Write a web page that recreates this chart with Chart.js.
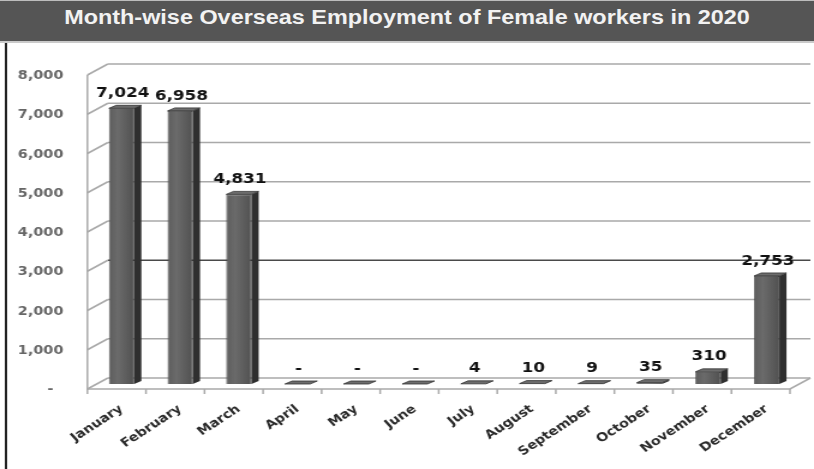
<!DOCTYPE html>
<html>
<head>
<meta charset="utf-8">
<title>Month-wise Overseas Employment of Female workers in 2020</title>
<script src="https://cdn.jsdelivr.net/npm/chart.js@4"></script>
<style>
  html, body { margin: 0; padding: 0; background: #fff; overflow: hidden; }
  /* the sheet is laid out 678 wide and stretched across the 814px window */
  #page { position: absolute; left: 0; top: 0; width: 678px; height: 469px;
          transform-origin: 0 0; transform: scaleX(1.2006); }
  #chart { position: absolute; left: 0; top: 0; }
  #title { position: absolute; left: 0; top: 0; width: 678px; height: 43px; box-sizing: border-box;
           background: #555; border-top: 1px solid #bdbdbd; border-bottom: 2px solid #cacaca;
           color: #f2f2f2; text-align: center; padding-top: 5px; line-height: 22px;
           font: bold 19.5px "Liberation Sans", Arial, sans-serif; }
  #frame { position: absolute; left: 4px; top: 43px; height: 426px; border-left: 2px solid #222; }
</style>
</head>
<body>
<div id="page">
  <canvas id="chart" width="678" height="469"></canvas>
  <div id="title">Month-wise Overseas Employment of Female workers in 2020</div>
  <div id="frame"></div>
</div>
<script>
const months = ['January', 'February', 'March', 'April', 'May', 'June',
                'July', 'August', 'September', 'October', 'November', 'December'];
const femaleWorkers = [7024, 6958, 4831, 0, 0, 0, 4, 10, 9, 35, 310, 2753];
const yTickLabels = ['-  ', '1,000', '2,000', '3,000', '4,000', '5,000', '6,000', '7,000', '8,000'];

// depth of the floor / walls and of each column
const WALL_DX = 17, FRONT_DY = 5, BACK_DY = -6;
const SIDE_DX = 6, SIDE_DY = -3;

function fmt(v) {
  return v === 0 ? '-' : v.toLocaleString('en-US');
}

const box3d = {
  id: 'box3d',
  beforeDatasetsDraw(chart) {
    const {ctx, chartArea: a, scales: {y}} = chart;
    const frontL = a.left - 4, frontR = a.right - 5;
    const backL = frontL + WALL_DX, backR = frontR + WALL_DX;
    const y0 = y.getPixelForValue(0);
    ctx.save();
    ctx.lineWidth = 1.5;
    // back wall gridlines and the left wall
    y.ticks.forEach(t => {
      const py = y.getPixelForValue(t.value);
      ctx.strokeStyle = t.value === 3000 ? '#4a4a4a' : '#a9a9a9';
      ctx.beginPath();
      ctx.moveTo(backL, py + BACK_DY);
      ctx.lineTo(backR, py + BACK_DY);
      ctx.stroke();
      ctx.strokeStyle = '#a9a9a9';
      ctx.beginPath();
      ctx.moveTo(frontL, py + FRONT_DY);
      ctx.lineTo(backL, py + BACK_DY);
      ctx.stroke();
    });
    ctx.strokeStyle = '#a9a9a9';
    ctx.beginPath();
    ctx.moveTo(frontL, y.getPixelForValue(y.max) + FRONT_DY);
    ctx.lineTo(frontL, y0 + FRONT_DY);
    ctx.lineTo(frontR, y0 + FRONT_DY);
    ctx.lineTo(backR, y0 + BACK_DY);
    ctx.stroke();
    // category tick marks on the front edge of the floor
    const step = (frontR - frontL) / months.length;
    for (let k = 0; k <= months.length; k++) {
      const px = frontL + k * step;
      ctx.beginPath();
      ctx.moveTo(px, y0 + FRONT_DY);
      ctx.lineTo(px, y0 + FRONT_DY + 5);
      ctx.stroke();
    }
    ctx.restore();
  },
  afterDatasetsDraw(chart) {
    const {ctx} = chart;
    const meta = chart.getDatasetMeta(0);
    ctx.save();
    meta.data.forEach((bar, i) => {
      const {x, y, base, width} = bar.getProps(['x', 'y', 'base', 'width'], true);
      const l = x - width / 2, r = x + width / 2;
      // soft highlight on the front face
      const g = ctx.createLinearGradient(l, 0, r, 0);
      g.addColorStop(0, 'rgba(255,255,255,0.02)');
      g.addColorStop(0.35, 'rgba(255,255,255,0.10)');
      g.addColorStop(1, 'rgba(0,0,0,0.10)');
      ctx.fillStyle = g;
      ctx.fillRect(l, y, width, base - y);
      // right side
      ctx.fillStyle = '#2f2f2f';
      ctx.beginPath();
      ctx.moveTo(r, y);
      ctx.lineTo(r + SIDE_DX, y + SIDE_DY);
      ctx.lineTo(r + SIDE_DX, base + SIDE_DY);
      ctx.lineTo(r, base);
      ctx.closePath();
      ctx.fill();
      // top
      ctx.fillStyle = '#6c6c6c';
      ctx.strokeStyle = '#333';
      ctx.lineWidth = 0.8;
      ctx.beginPath();
      ctx.moveTo(l, y);
      ctx.lineTo(l + SIDE_DX, y + SIDE_DY);
      ctx.lineTo(r + SIDE_DX, y + SIDE_DY);
      ctx.lineTo(r, y);
      ctx.closePath();
      ctx.fill();
      ctx.stroke();
      // value label
      ctx.fillStyle = '#111';
      ctx.font = 'bold 14px "DejaVu Sans"';
      ctx.textAlign = 'center';
      ctx.textBaseline = 'bottom';
      ctx.fillText(fmt(femaleWorkers[i]), x + 1, y + SIDE_DY - 5);
    });
    ctx.restore();
  }
};

const config = {
  type: 'bar',
  data: {
    labels: months,
    datasets: [{
      label: 'Female workers',
      data: femaleWorkers,
      backgroundColor: '#5a5a5a',
      borderColor: '#3a3a3a',
      borderWidth: 0.8,
      barPercentage: 0.43,
      categoryPercentage: 1
    }]
  },
  options: {
    responsive: false,
    animation: false,
    devicePixelRatio: 1,
    layout: { padding: { top: 70, right: 15, left: 0, bottom: 0 } },
    plugins: { legend: { display: false }, tooltip: { enabled: false } },
    scales: {
      x: {
        afterFit: s => { s.height = 85; },
        grid: { display: false, drawTicks: false },
        border: { display: false },
        ticks: {
          autoSkip: false, minRotation: 38, maxRotation: 38, padding: 18,
          color: '#2a2a2a', font: { family: 'DejaVu Sans', weight: 'bold', size: 12 }
        }
      },
      y: {
        min: 0, max: 8000,
        afterFit: s => { s.width = 76.8; },
        grid: { display: false, drawTicks: false },
        border: { display: false },
        ticks: {
          stepSize: 1000, padding: 24, labelOffset: 6,
          color: '#666', font: { family: 'DejaVu Sans', weight: 'bold', size: 12 },
          callback: v => yTickLabels[v / 1000]
        }
      }
    }
  },
  plugins: [box3d]
};

new Chart(document.getElementById('chart'), config);
</script>
</body>
</html>
